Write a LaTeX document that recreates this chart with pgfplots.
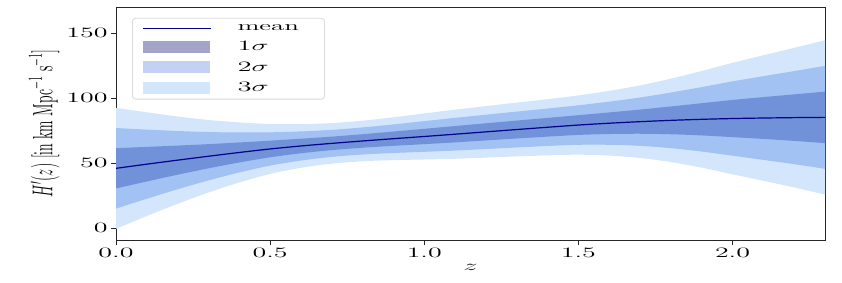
\documentclass[border=0pt]{standalone}
\usepackage{pgfplots}
\usepackage{pgfplotstable}
\usepackage{graphicx}
\pgfplotsset{compat=1.18}
\usepgfplotslibrary{fillbetween}

\definecolor{cthree}{HTML}{D4E6FC}
\definecolor{ctwo}{HTML}{A2C2F4}
\definecolor{cone}{HTML}{7192D8}
\definecolor{meancol}{HTML}{00008B}
\definecolor{legone}{HTML}{A3A4C8}
\definecolor{legtwo}{HTML}{C5D1F3}
\definecolor{legthree}{HTML}{D3E7FC}

\pgfplotstableread{
z   m     l1    u1    l2    u2    l3    u3
0.0 45.9  30.4  61.4  14.9  76.9  -0.6  92.4
0.1 49.1  35.8  62.4  22.5  75.7  9.2   89.0
0.2 52.2  41.0  63.4  29.8  74.6  18.6  85.8
0.3 55.2  45.9  64.5  36.6  73.8  27.3  83.1
0.4 58.1  50.4  65.8  42.7  73.5  35.0  81.2
0.5 60.8  54.4  67.2  48.0  73.6  41.6  80.0
0.6 63.1  57.5  68.7  51.9  74.3  46.3  79.9
0.7 65.1  59.9  70.3  54.7  75.5  49.5  80.7
0.8 66.95 61.75 72.15 56.55 77.35 51.35 82.55
0.9 68.7  63.2  74.2  57.7  79.7  52.2  85.2
1.0 70.4  64.5  76.3  58.6  82.2  52.7  88.1
1.1 72.15 65.85 78.45 59.55 84.75 53.25 91.05
1.2 73.95 67.35 80.55 60.75 87.15 54.15 93.75
1.3 75.75 68.85 82.65 61.95 89.55 55.05 96.45
1.4 77.5  70.3  84.7  63.1  91.9  55.9  99.1
1.5 79.2  71.6  86.8  64.0  94.4  56.4  102.0
1.6 80.6  72.3  88.9  64.0  97.2  55.7  105.5
1.7 81.8  72.5  91.1  63.2  100.4 53.9  109.7
1.8 82.8  72.1  93.5  61.4  104.2 50.7  114.9
1.9 83.6  71.2  96.0  58.8  108.4 46.4  120.8
2.0 84.2  69.9  98.5  55.6  112.8 41.3  127.1
2.1 84.6  68.5  100.7 52.4  116.8 36.3  132.9
2.2 84.9  67.0  102.8 49.1  120.7 31.2  138.6
2.3 85.1  65.3  104.9 45.5  124.7 25.7  144.5
}\bands

\pgfplotsset{
  meanleg/.style={legend image code/.code={\path[draw=none, fill=none] (0bp,-5.5bp) rectangle (68bp,5.5bp);\draw[meancol, line width=1.1bp, sharp corners] (0bp,0bp) -- (68bp,0bp);}},
  oneleg/.style={legend image code/.code={\fill[legone, sharp corners] (0bp,-5.5bp) rectangle (66bp,5.5bp);}},
  twoleg/.style={legend image code/.code={\fill[legtwo, sharp corners] (0bp,-5.5bp) rectangle (66bp,5.5bp);}},
  threeleg/.style={legend image code/.code={\fill[legthree, sharp corners] (0bp,-5.5bp) rectangle (66bp,5.5bp);}},
}

\begin{document}
\begin{tikzpicture}
\begin{axis}[
  scale only axis, width=709bp, height=233bp,
  xmin=0, xmax=2.3, ymin=-9.23, ymax=170,
  xtick={0,0.5,1,1.5,2}, ytick={0,50,100,150},
  xticklabel={\scalebox{1.95}[1]{$\pgfmathprintnumber[fixed,fixed zerofill,precision=1]{\tick}$}},
  yticklabel={\scalebox{1.95}[1]{$\pgfmathprintnumber{\tick}$}},
  tick align=outside, xtick pos=bottom, ytick pos=left,
  major tick length=5bp,
  tick style={black!85, line width=0.8bp},
  axis line style={black!85, line width=0.8bp},
  tick label style={font=\fontsize{13.5}{15}\selectfont},
  xlabel={\scalebox{2}[1]{$z$}},
  ylabel={\scalebox{1}[2]{$H'(z)$ [in km Mpc$^{-1}$ s$^{-1}$]}},
  label style={font=\fontsize{14}{16}\selectfont},
  legend style={at={(axis description cs:0.0226,0.953)}, anchor=north west,
    draw=black!15, line width=0.8bp, rounded corners=3bp, fill=white,
    font=\fontsize{13.5}{15}\selectfont, inner xsep=10bp, inner ysep=4bp, row sep=5.7bp,
    /tikz/every odd column/.append style={column sep=24bp}},
  legend cell align=left,
]
\addlegendimage{meanleg}\addlegendentry{\makebox[75bp][l]{\scalebox{2}[1]{mean}}}
\addlegendimage{oneleg}\addlegendentry{\scalebox{2}[1]{$1\sigma$}}
\addlegendimage{twoleg}\addlegendentry{\scalebox{2}[1]{$2\sigma$}}
\addlegendimage{threeleg}\addlegendentry{\scalebox{2}[1]{$3\sigma$}}

\addplot[name path=u3, draw=none, smooth, forget plot] table[x=z, y=u3]{\bands};
\addplot[name path=l3, draw=none, smooth, forget plot] table[x=z, y=l3]{\bands};
\addplot[name path=u2, draw=none, smooth, forget plot] table[x=z, y=u2]{\bands};
\addplot[name path=l2, draw=none, smooth, forget plot] table[x=z, y=l2]{\bands};
\addplot[name path=u1, draw=none, smooth, forget plot] table[x=z, y=u1]{\bands};
\addplot[name path=l1, draw=none, smooth, forget plot] table[x=z, y=l1]{\bands};
\addplot[fill=cthree, draw=none, forget plot] fill between[of=u3 and l3];
\addplot[fill=ctwo, draw=none, forget plot] fill between[of=u2 and l2];
\addplot[fill=cone, draw=none, forget plot] fill between[of=u1 and l1];
\addplot[meancol, line width=1.2bp, smooth, forget plot] table[x=z, y=m]{\bands};
\end{axis}
\path ([shift={(-116bp,-43bp)}]current axis.south west) rectangle ++(842bp,283bp);
\end{tikzpicture}
\end{document}
